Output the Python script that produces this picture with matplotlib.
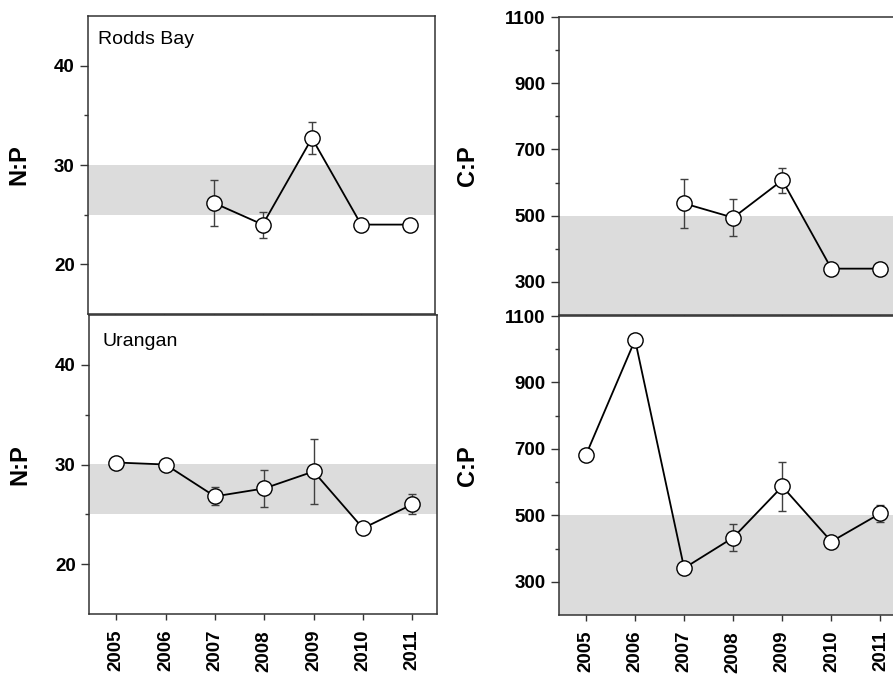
import numpy as np
import matplotlib
matplotlib.use('Agg')
import matplotlib.pyplot as plt

plt.rcParams['font.family'] = ['Liberation Sans', 'DejaVu Sans']

# data
years_all = [2005, 2006, 2007, 2008, 2009, 2010, 2011]
years_rodds = [2007, 2008, 2009, 2010, 2011]

rodds_np = [26.2, 24.0, 32.7, 24.0, 24.0]
rodds_np_err = [2.3, 1.3, 1.6, 0.0, 0.0]
urangan_np = [30.2, 30.0, 26.8, 27.6, 29.3, 23.6, 26.0]
urangan_np_err = [0.0, 0.0, 0.9, 1.85, 3.3, 0.0, 1.0]

rodds_cp = [537, 494, 607, 340, 340]
rodds_cp_err = [73, 55, 38, 0, 0]
urangan_cp = [682, 1028, 341, 433, 587, 421, 506]
urangan_cp_err = [0, 0, 0, 40, 74, 0, 25]

np_band = (25, 30)
cp_band = (200, 500)
np_major = [20, 30, 40]
np_minor = [25, 35]
cp_major = [300, 500, 700, 900, 1100]
cp_minor = [400, 600, 800, 1000]
site_names = ['Rodds Bay', 'Urangan']

W, H = 893, 676
fig = plt.figure(figsize=(W / 100, H / 100), dpi=100)


def px_axes(x0, x1, y0, y1):
    # pixel box -> figure fraction
    return fig.add_axes([x0 / W, 1 - y1 / H, (x1 - x0) / W, (y1 - y0) / H])


ax_tl = px_axes(88, 435, 16, 314)
ax_bl = px_axes(89, 437, 315, 614)
ax_tr = px_axes(559, 905, 17, 315)
ax_br = px_axes(559, 905, 316, 615)

spine_col = '#333333'


def style(ax, ylim, major, minor, band, ylabel, labx, show_x):
    ax.axhspan(band[0], band[1], color='#dcdcdc', lw=0, zorder=0)
    ax.set_xlim(2004.45, 2011.5)
    ax.set_ylim(*ylim)
    ax.set_xticks(years_all)
    ax.set_yticks(major)
    ax.set_yticks(minor, minor=True)
    for s in ax.spines.values():
        s.set_color(spine_col)
        s.set_linewidth(1.1)
    ax.tick_params(axis='y', which='major', direction='out', length=5.5, width=1,
                   color=spine_col, labelsize=13.5, pad=4)
    ax.tick_params(axis='y', which='minor', direction='out', length=3, width=1, color=spine_col)
    ax.tick_params(axis='x', direction='out', length=4.5, width=1, color=spine_col,
                   labelsize=13.5, pad=7, labelbottom=show_x)
    for lab in ax.get_yticklabels():
        lab.set_fontweight('bold')
    if show_x:
        for lab in ax.get_xticklabels():
            lab.set_fontweight('bold')
            lab.set_rotation(90)
    ax.set_ylabel(ylabel, fontsize=17, fontweight='bold')
    ax.yaxis.set_label_coords(labx, 0.5)


def series(ax, x, y, err):
    ax.errorbar(x, y, yerr=err, fmt='none', ecolor='#404040', elinewidth=1,
                capsize=3, capthick=1, zorder=2)
    ax.plot(x, y, '-o', color='black', lw=1.3, ms=11, mfc='white', mec='black',
            mew=1, zorder=3)


style(ax_tl, (15, 45), np_major, np_minor, np_band, 'N:P', -0.165, False)
style(ax_bl, (15, 45), np_major, np_minor, np_band, 'N:P', -0.165, True)
style(ax_tr, (200, 1100), cp_major, cp_minor, cp_band, 'C:P', -0.232, False)
style(ax_br, (200, 1100), cp_major, cp_minor, cp_band, 'C:P', -0.232, True)

series(ax_tl, years_rodds, rodds_np, rodds_np_err)
series(ax_bl, years_all, urangan_np, urangan_np_err)
series(ax_tr, years_rodds, rodds_cp, rodds_cp_err)
series(ax_br, years_all, urangan_cp, urangan_cp_err)

ax_tl.text(0.029, 0.95, site_names[0], transform=ax_tl.transAxes, fontsize=14, va='top')
ax_bl.text(0.04, 0.94, site_names[1], transform=ax_bl.transAxes, fontsize=14, va='top')

fig.savefig('out.png', dpi=100)
